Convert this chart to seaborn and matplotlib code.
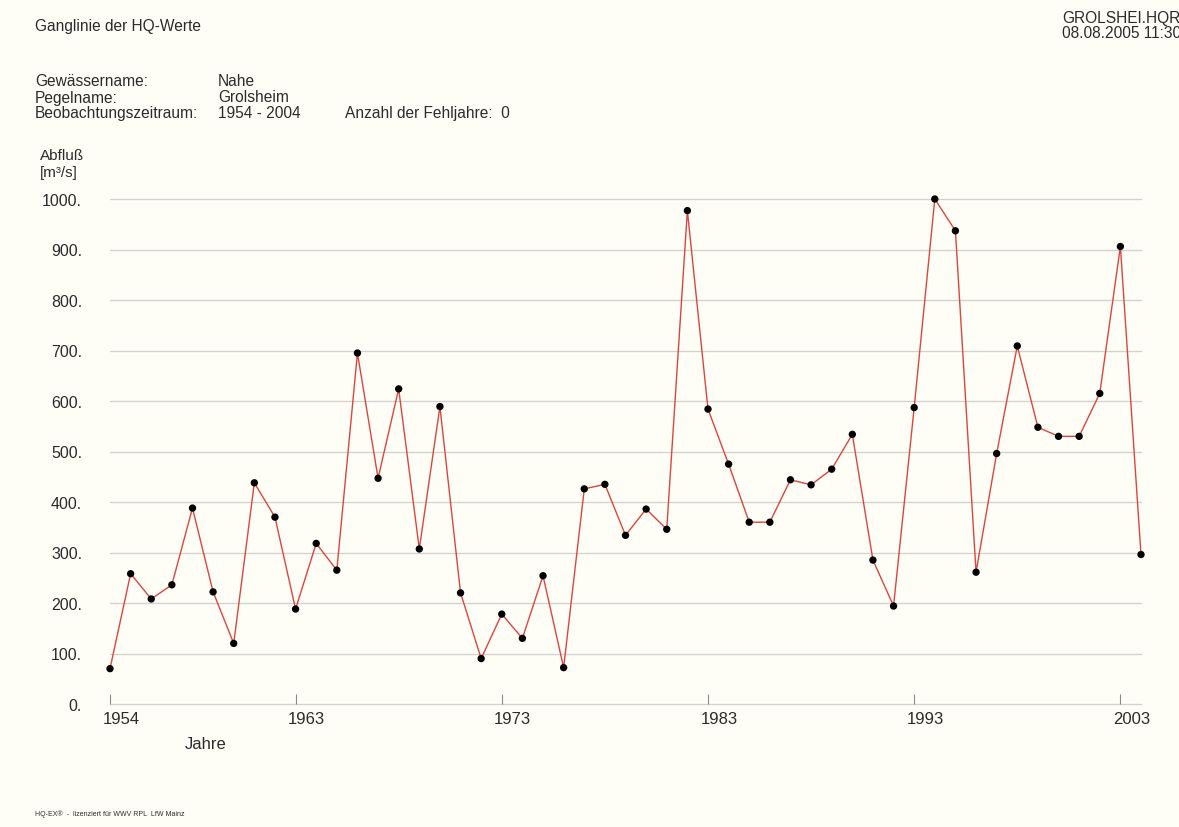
import matplotlib
matplotlib.use("Agg")
import matplotlib.pyplot as plt
import matplotlib.transforms as mtransforms
import seaborn as sns
import pandas as pd

# Annual peak discharge (HQ) at gauge Grolsheim / Nahe, 1954-2004
years = list(range(1954, 2005))
hq = [70, 258, 208, 236, 388, 222, 120, 438, 370, 188,
      318, 265, 695, 447, 624, 307, 589, 220, 90, 178,
      130, 254, 72, 426, 435, 334, 386, 346, 977, 584,
      475, 360, 360, 444, 434, 465, 534, 285, 194, 587,
      1000, 937, 261, 496, 709, 548, 530, 530, 615, 906,
      296]

x_ticks = [1954, 1963, 1973, 1983, 1993, 2003]
y_ticks = [0, 100, 200, 300, 400, 500, 600, 700, 800, 900, 1000]
y_labels = [f"{v}." for v in y_ticks]

df = pd.DataFrame({"Jahr": years, "HQ": hq})

sns.set_theme(style="white")
plt.rcParams["font.family"] = ["Liberation Sans", "DejaVu Sans"]

W, H = 1179, 828
bg = "#fffef6"
ink = "#2b2b2b"
fig = plt.figure(figsize=(W / 100, H / 100), dpi=100, facecolor=bg)

left, right, bottom, top = 110, 1141, 705, 200
ax = fig.add_axes([left / W, 1 - bottom / H, (right - left) / W, (bottom - top) / H])
ax.set_facecolor(bg)

for v in y_ticks:
    ax.axhline(v, color="#d2d2d2", lw=1.0, zorder=0, clip_on=False)

sns.lineplot(data=df, x="Jahr", y="HQ", ax=ax, color="#d9463f", lw=1.0,
             zorder=2, clip_on=False)
sns.scatterplot(data=df, x="Jahr", y="HQ", ax=ax, color="black", s=28,
                edgecolor="none", zorder=3, clip_on=False)

ax.set_xlim(1954, 2004)
ax.set_ylim(0, 1000)
for s in ax.spines.values():
    s.set_visible(False)

ax.set_xticks(x_ticks)
ax.set_xticklabels([str(t) for t in x_ticks])
ax.set_yticks(y_ticks)
ax.set_yticklabels(y_labels)
ax.tick_params(axis="x", direction="in", length=7, width=0.8, color="#8a8a8a",
               bottom=True, pad=5, labelsize=12, labelcolor=ink)
ax.tick_params(axis="y", length=0, pad=20, labelsize=11.5, labelcolor=ink)
offset = mtransforms.ScaledTranslation(11 / 100, 0, fig.dpi_scale_trans)
for lbl in ax.get_xticklabels():
    lbl.set_transform(lbl.get_transform() + offset)
ax.set_xlabel("")
ax.set_ylabel("")

def put(x, y, s, size=11.2, **kw):
    fig.text(x / W, 1 - y / H, s, fontsize=size, color=ink, va="center", **kw)

put(35, 27, "Ganglinie der HQ-Werte")
put(1062, 18, "GROLSHEI.HQR")
put(1062, 33, "08.08.2005 11:30")

put(35, 82, "Gewässername:")
put(35, 98, "Pegelname:")
put(35, 114, "Beobachtungszeitraum:")
put(218, 82, "Nahe")
put(218, 98, "Grolsheim")
put(218, 114, "1954 - 2004")
put(345, 114, "Anzahl der Fehljahre:  0")

put(40, 156, "Abfluß", size=11)
put(40, 173, "[m³/s]", size=11)
put(185, 745, "Jahre", size=12)

put(35, 814, "HQ-EX®  -  lizenziert für WWV RPL  LfW Mainz", size=5)

fig.savefig("out.png", dpi=100, facecolor=bg)
